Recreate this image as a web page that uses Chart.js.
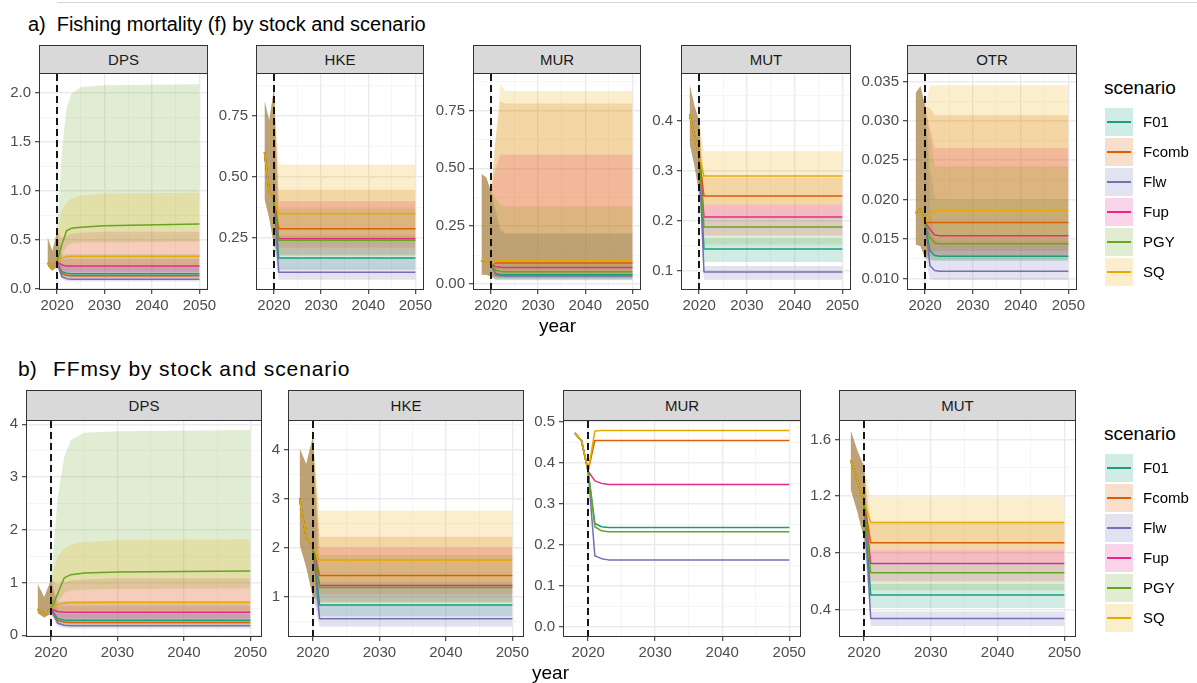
<!DOCTYPE html>
<html><head><meta charset="utf-8">
<script src="https://cdn.jsdelivr.net/npm/chart.js@4"></script>
<style>
html,body{margin:0;padding:0;background:#fff;}
body{width:1197px;height:683px;position:relative;overflow:hidden;font-family:"Liberation Sans",Arial,Helvetica,sans-serif;}
.abs{position:absolute;white-space:pre;}
.strip{position:absolute;background:#D9D9D9;border:1px solid #333333;box-sizing:border-box;text-align:center;color:#1A1A1A;font-size:15px;}
</style></head><body>
<script>
// ---------------- DATA ----------------
const scenarios = ['F01','Fcomb','Flw','Fup','PGY','SQ'];
const scenarioColors = ['#1B9E77','#D95F02','#7570B3','#E7298A','#66A61E','#E6AB02'];
const histYears = [2018, 2019, 2020];
const projYears = [2021, 2022, 2023, 2025, 2030, 2050];
const xTickLabels = ['2020','2030','2040','2050'];
const refYear = 2020;

// a) Fishing mortality - DPS
const fDPS_yTicks = ['0.0','0.5','1.0','1.5','2.0'];
const fDPS_histMid = [0.26, 0.21, 0.27];
const fDPS_histLo  = [0.23, 0.18, 0.22];
const fDPS_histHi  = [0.52, 0.38, 0.58];
const fDPS_mid = [
 [0.17,0.155,0.15,0.15,0.15,0.15],
 [0.15,0.135,0.13,0.13,0.13,0.13],
 [0.12,0.10,0.095,0.095,0.095,0.095],
 [0.24,0.23,0.23,0.23,0.23,0.23],
 [0.45,0.59,0.615,0.625,0.64,0.66],
 [0.31,0.325,0.33,0.33,0.33,0.33]];
const fDPS_lo = [
 [0.13,0.115,0.11,0.11,0.11,0.11],
 [0.12,0.105,0.10,0.10,0.10,0.10],
 [0.09,0.075,0.07,0.07,0.07,0.07],
 [0.18,0.17,0.17,0.17,0.17,0.17],
 [0.33,0.43,0.46,0.47,0.47,0.48],
 [0.23,0.24,0.24,0.24,0.24,0.24]];
const fDPS_hi = [
 [0.34,0.35,0.35,0.35,0.35,0.35],
 [0.30,0.30,0.30,0.30,0.30,0.30],
 [0.24,0.22,0.22,0.22,0.22,0.22],
 [0.52,0.54,0.56,0.57,0.58,0.58],
 [1.40,1.84,1.99,2.06,2.08,2.09],
 [0.80,0.88,0.92,0.95,0.97,0.98]];

// a) HKE
const fHKE_yTicks = ['0.25','0.50','0.75'];
const fHKE_histMid = [0.60, 0.44, 0.41];
const fHKE_histLo  = [0.41, 0.33, 0.22];
const fHKE_histHi  = [0.81, 0.73, 0.86];
const fHKE_mid = [
 [0.167,0.167,0.167,0.167,0.167,0.167],
 [0.287,0.287,0.287,0.287,0.287,0.287],
 [0.109,0.109,0.109,0.109,0.109,0.109],
 [0.246,0.246,0.246,0.246,0.246,0.246],
 [0.240,0.240,0.240,0.240,0.240,0.240],
 [0.348,0.348,0.348,0.348,0.348,0.348]];
const fHKE_lo = [
 [0.120,0.120,0.120,0.120,0.120,0.120],
 [0.210,0.210,0.210,0.210,0.210,0.210],
 [0.078,0.078,0.078,0.078,0.078,0.078],
 [0.180,0.180,0.180,0.180,0.180,0.180],
 [0.175,0.175,0.175,0.175,0.175,0.175],
 [0.250,0.250,0.250,0.250,0.250,0.250]];
const fHKE_hi = [
 [0.260,0.260,0.260,0.260,0.260,0.260],
 [0.447,0.447,0.447,0.447,0.447,0.447],
 [0.170,0.170,0.170,0.170,0.170,0.170],
 [0.400,0.400,0.400,0.400,0.400,0.400],
 [0.370,0.370,0.370,0.370,0.370,0.370],
 [0.550,0.550,0.550,0.550,0.550,0.550]];

// a) MUR
const fMUR_yTicks = ['0.00','0.25','0.50','0.75'];
const fMUR_histMid = [0.100, 0.100, 0.082];
const fMUR_histLo  = [0.040, 0.040, 0.032];
const fMUR_histHi  = [0.475, 0.460, 0.400];
const fMUR_mid = [
 [0.045,0.040,0.040,0.040,0.040,0.040],
 [0.090,0.090,0.090,0.090,0.090,0.090],
 [0.040,0.035,0.034,0.034,0.034,0.034],
 [0.075,0.072,0.071,0.071,0.071,0.071],
 [0.060,0.054,0.053,0.053,0.053,0.053],
 [0.100,0.100,0.100,0.100,0.100,0.100]];
const fMUR_lo = [
 [0.018,0.018,0.018,0.018,0.018,0.018],
 [0.030,0.030,0.030,0.030,0.030,0.030],
 [0.016,0.016,0.016,0.016,0.016,0.016],
 [0.026,0.026,0.026,0.026,0.026,0.026],
 [0.022,0.022,0.022,0.022,0.022,0.022],
 [0.032,0.032,0.032,0.032,0.032,0.032]];
const fMUR_hi = [
 [0.320,0.240,0.220,0.220,0.220,0.220],
 [0.620,0.790,0.780,0.780,0.780,0.780],
 [0.300,0.230,0.215,0.215,0.215,0.215],
 [0.500,0.560,0.560,0.560,0.560,0.560],
 [0.370,0.345,0.335,0.335,0.335,0.335],
 [0.650,0.865,0.835,0.835,0.835,0.835]];

// a) MUT
const fMUT_yTicks = ['0.1','0.2','0.3','0.4'];
const fMUT_histMid = [0.412, 0.370, 0.330];
const fMUT_histLo  = [0.355, 0.310, 0.255];
const fMUT_histHi  = [0.472, 0.430, 0.400];
const fMUT_mid = [
 [0.143,0.143,0.143,0.143,0.143,0.143],
 [0.249,0.249,0.249,0.249,0.249,0.249],
 [0.0967,0.0967,0.0967,0.0967,0.0967,0.0967],
 [0.207,0.207,0.207,0.207,0.207,0.207],
 [0.187,0.187,0.187,0.187,0.187,0.187],
 [0.289,0.289,0.289,0.289,0.289,0.289]];
const fMUT_lo = [
 [0.117,0.117,0.117,0.117,0.117,0.117],
 [0.210,0.210,0.210,0.210,0.210,0.210],
 [0.081,0.081,0.081,0.081,0.081,0.081],
 [0.170,0.170,0.170,0.170,0.170,0.170],
 [0.152,0.152,0.152,0.152,0.152,0.152],
 [0.232,0.232,0.232,0.232,0.232,0.232]];
const fMUT_hi = [
 [0.165,0.165,0.165,0.165,0.165,0.165],
 [0.286,0.286,0.286,0.286,0.286,0.286],
 [0.109,0.109,0.109,0.109,0.109,0.109],
 [0.232,0.232,0.232,0.232,0.232,0.232],
 [0.210,0.210,0.210,0.210,0.210,0.210],
 [0.339,0.339,0.339,0.339,0.339,0.339]];

// a) OTR
const fOTR_yTicks = ['0.010','0.015','0.020','0.025','0.030','0.035'];
const fOTR_histMid = [0.0183, 0.0188, 0.0171];
const fOTR_histLo  = [0.0143, 0.0141, 0.0126];
const fOTR_histHi  = [0.0335, 0.0344, 0.0318];
const fOTR_mid = [
 [0.0135,0.0129,0.0128,0.0128,0.0128,0.0128],
 [0.0171,0.0171,0.0171,0.0171,0.0171,0.0171],
 [0.0116,0.0110,0.0109,0.0109,0.0109,0.0109],
 [0.0162,0.0155,0.0154,0.0154,0.0154,0.0154],
 [0.0152,0.0145,0.0144,0.0144,0.0144,0.0144],
 [0.0183,0.0186,0.0186,0.0186,0.0186,0.0186]];
const fOTR_lo = [
 [0.0124,0.0122,0.0122,0.0122,0.0122,0.0122],
 [0.0133,0.0135,0.0135,0.0135,0.0135,0.0135],
 [0.0099,0.0098,0.0098,0.0098,0.0098,0.0098],
 [0.0128,0.0128,0.0128,0.0128,0.0128,0.0128],
 [0.0123,0.0123,0.0123,0.0123,0.0123,0.0123],
 [0.0138,0.0141,0.0141,0.0141,0.0141,0.0141]];
const fOTR_hi = [
 [0.0240,0.0201,0.0200,0.0200,0.0200,0.0200],
 [0.0316,0.0307,0.0307,0.0307,0.0307,0.0307],
 [0.0190,0.0149,0.0148,0.0148,0.0148,0.0148],
 [0.0290,0.0265,0.0265,0.0265,0.0265,0.0265],
 [0.0280,0.0242,0.0242,0.0242,0.0242,0.0242],
 [0.0345,0.0345,0.0345,0.0345,0.0345,0.0345]];

// b) FFmsy - DPS
const ffDPS_yTicks = ['0','1','2','3','4'];
const ffDPS_histMid = [0.49, 0.40, 0.50];
const ffDPS_histLo  = [0.42, 0.34, 0.41];
const ffDPS_histHi  = [0.97, 0.72, 1.05];
const ffDPS_mid = [
 [0.32,0.29,0.285,0.285,0.285,0.285],
 [0.28,0.25,0.245,0.245,0.245,0.245],
 [0.23,0.19,0.18,0.18,0.18,0.18],
 [0.45,0.435,0.435,0.435,0.435,0.435],
 [0.78,1.09,1.15,1.18,1.20,1.22],
 [0.58,0.61,0.62,0.62,0.625,0.625]];
const ffDPS_lo = [
 [0.24,0.215,0.205,0.205,0.205,0.205],
 [0.22,0.195,0.185,0.185,0.185,0.185],
 [0.17,0.14,0.13,0.13,0.13,0.13],
 [0.34,0.32,0.32,0.32,0.32,0.32],
 [0.62,0.80,0.85,0.87,0.88,0.89],
 [0.43,0.45,0.45,0.45,0.45,0.45]];
const ffDPS_hi = [
 [0.63,0.65,0.65,0.65,0.65,0.65],
 [0.56,0.56,0.56,0.56,0.56,0.56],
 [0.45,0.41,0.41,0.41,0.41,0.41],
 [0.97,1.00,1.04,1.06,1.08,1.08],
 [2.60,3.38,3.70,3.84,3.87,3.89],
 [1.50,1.64,1.72,1.77,1.80,1.82]];

// b) HKE
const ffHKE_yTicks = ['1','2','3','4'];
const ffHKE_histMid = [3.00, 2.20, 2.02];
const ffHKE_histLo  = [2.07, 1.60, 1.00];
const ffHKE_histHi  = [4.02, 3.70, 4.27];
const ffHKE_mid = [
 [0.83,0.83,0.83,0.83,0.83,0.83],
 [1.43,1.43,1.43,1.43,1.43,1.43],
 [0.55,0.55,0.55,0.55,0.55,0.55],
 [1.23,1.23,1.23,1.23,1.23,1.23],
 [1.19,1.19,1.19,1.19,1.19,1.19],
 [1.75,1.75,1.75,1.75,1.75,1.75]];
const ffHKE_lo = [
 [0.60,0.60,0.60,0.60,0.60,0.60],
 [1.05,1.05,1.05,1.05,1.05,1.05],
 [0.39,0.39,0.39,0.39,0.39,0.39],
 [0.90,0.90,0.90,0.90,0.90,0.90],
 [0.87,0.87,0.87,0.87,0.87,0.87],
 [1.25,1.25,1.25,1.25,1.25,1.25]];
const ffHKE_hi = [
 [1.30,1.30,1.30,1.30,1.30,1.30],
 [2.22,2.22,2.22,2.22,2.22,2.22],
 [0.85,0.85,0.85,0.85,0.85,0.85],
 [2.00,2.00,2.00,2.00,2.00,2.00],
 [1.85,1.85,1.85,1.85,1.85,1.85],
 [2.75,2.75,2.75,2.75,2.75,2.75]];

// b) MUR (lines only)
const ffMUR_yTicks = ['0.0','0.1','0.2','0.3','0.4','0.5'];
const ffMUR_histMid = [0.473, 0.455, 0.380];
const ffMUR_mid = [
 [0.252,0.244,0.242,0.242,0.242,0.242],
 [0.455,0.455,0.455,0.455,0.455,0.455],
 [0.173,0.166,0.163,0.163,0.163,0.163],
 [0.356,0.350,0.347,0.347,0.347,0.347],
 [0.244,0.234,0.232,0.232,0.232,0.232],
 [0.478,0.479,0.479,0.479,0.479,0.479]];

// b) MUT
const ffMUT_yTicks = ['0.4','0.8','1.2','1.6'];
const ffMUT_histMid = [1.454, 1.310, 1.165];
const ffMUT_histLo  = [1.250, 1.090, 0.900];
const ffMUT_histHi  = [1.666, 1.520, 1.410];
const ffMUT_mid = [
 [0.501,0.501,0.501,0.501,0.501,0.501],
 [0.871,0.871,0.871,0.871,0.871,0.871],
 [0.336,0.336,0.336,0.336,0.336,0.336],
 [0.725,0.725,0.725,0.725,0.725,0.725],
 [0.659,0.659,0.659,0.659,0.659,0.659],
 [1.014,1.014,1.014,1.014,1.014,1.014]];
const ffMUT_lo = [
 [0.410,0.410,0.410,0.410,0.410,0.410],
 [0.740,0.740,0.740,0.740,0.740,0.740],
 [0.282,0.282,0.282,0.282,0.282,0.282],
 [0.600,0.600,0.600,0.600,0.600,0.600],
 [0.535,0.535,0.535,0.535,0.535,0.535],
 [0.820,0.820,0.820,0.820,0.820,0.820]];
const ffMUT_hi = [
 [0.580,0.580,0.580,0.580,0.580,0.580],
 [1.010,1.010,1.010,1.010,1.010,1.010],
 [0.385,0.385,0.385,0.385,0.385,0.385],
 [0.820,0.820,0.820,0.820,0.820,0.820],
 [0.740,0.740,0.740,0.740,0.740,0.740],
 [1.195,1.195,1.195,1.195,1.195,1.195]];

// ---------------- LAYOUT ----------------
const panels = [
 {name:'DPS', x0:40,  x1:207,  y0:74, y1:289, sTop:45, ymin:-0.006, ymax:2.194, yT:fDPS_yTicks, hM:fDPS_histMid, hL:fDPS_histLo, hH:fDPS_histHi, m:fDPS_mid, lo:fDPS_lo, hi:fDPS_hi},
 {name:'HKE', x0:257, x1:423,  y0:74, y1:289, sTop:45, ymin:0.04, ymax:0.921, yT:fHKE_yTicks, hM:fHKE_histMid, hL:fHKE_histLo, hH:fHKE_histHi, m:fHKE_mid, lo:fHKE_lo, hi:fHKE_hi},
 {name:'MUR', x0:474, x1:640,  y0:74, y1:289, sTop:45, ymin:-0.022, ymax:0.908, yT:fMUR_yTicks, hM:fMUR_histMid, hL:fMUR_histLo, hH:fMUR_histHi, m:fMUR_mid, lo:fMUR_lo, hi:fMUR_hi},
 {name:'MUT', x0:682, x1:850,  y0:74, y1:289, sTop:45, ymin:0.0627, ymax:0.4936, yT:fMUT_yTicks, hM:fMUT_histMid, hL:fMUT_histLo, hH:fMUT_histHi, m:fMUT_mid, lo:fMUT_lo, hi:fMUT_hi},
 {name:'OTR', x0:908, x1:1076, y0:74, y1:289, sTop:45, ymin:0.00865, ymax:0.03594, yT:fOTR_yTicks, hM:fOTR_histMid, hL:fOTR_histLo, hH:fOTR_histHi, m:fOTR_mid, lo:fOTR_lo, hi:fOTR_hi},
 {name:'DPS', x0:27,  x1:261,  y0:421, y1:636, sTop:390, ymin:-0.013, ymax:4.062, yT:ffDPS_yTicks, hM:ffDPS_histMid, hL:ffDPS_histLo, hH:ffDPS_histHi, m:ffDPS_mid, lo:ffDPS_lo, hi:ffDPS_hi},
 {name:'HKE', x0:289, x1:523,  y0:421, y1:636, sTop:390, ymin:0.2, ymax:4.58, yT:ffHKE_yTicks, hM:ffHKE_histMid, hL:ffHKE_histLo, hH:ffHKE_histHi, m:ffHKE_mid, lo:ffHKE_lo, hi:ffHKE_hi},
 {name:'MUR', x0:564, x1:800,  y0:421, y1:636, sTop:390, ymin:-0.023, ymax:0.5024, yT:ffMUR_yTicks, hM:ffMUR_histMid, hL:null, hH:null, m:ffMUR_mid, lo:null, hi:null},
 {name:'MUT', x0:840, x1:1075, y0:421, y1:636, sTop:390, ymin:0.212, ymax:1.731, yT:ffMUT_yTicks, hM:ffMUT_histMid, hL:ffMUT_histLo, hH:ffMUT_histHi, m:ffMUT_mid, lo:ffMUT_lo, hi:ffMUT_hi}
];
const XMIN = 2016.4, XMAX = 2051.6;
const L = 50, T = 16, R = 26, B = 30;
const FONT = '"Liberation Sans", Arial, Helvetica, sans-serif';
Chart.defaults.font.family = FONT;

function rgba(h, a){ const n = parseInt(h.slice(1),16); return `rgba(${n>>16},${(n>>8)&255},${n&255},${a})`; }
function tickList(labels, min, max){
  const vals = labels.map(parseFloat);
  const step = vals[1] - vals[0];
  const out = [];
  vals.forEach((v,i)=>{ if (v>=min && v<=max) out.push({value:v, mj:true, lab:labels[i]}); });
  for (let i=-1; i<vals.length; i++){
    const mv = vals[0] + (i+0.5)*step;
    if (mv>=min && mv<=max) out.push({value:mv, mj:false, lab:''});
  }
  return out.sort((a,b)=>a.value-b.value);
}
function series(xs, ys){ return xs.map((x,k)=>({x:x, y:ys[k]})); }

function buildDatasets(p){
  const years = histYears.concat(projYears);
  const ds = [];
  if (p.lo){
    scenarios.forEach((s,i)=>{
      const loIdx = ds.length;
      ds.push({label:s+' lo', data:series(years, p.hL.concat(p.lo[i])), borderWidth:0, borderColor:'rgba(0,0,0,0)', pointRadius:0, fill:false, order:300+(5-i)*2});
      ds.push({label:s+' hi', data:series(years, p.hH.concat(p.hi[i])), borderWidth:0, borderColor:'rgba(0,0,0,0)', pointRadius:0, fill:{target:loIdx}, backgroundColor:rgba(scenarioColors[i],0.2), order:300+(5-i)*2-1});
    });
  }
  scenarios.forEach((s,i)=>{
    ds.push({label:s, data:series(years, p.hM.concat(p.m[i])), borderColor:scenarioColors[i], borderWidth:1.5, borderJoinStyle:'round', pointRadius:0, fill:false, order:5-i});
  });
  return ds;
}

const deco = {
  id:'deco',
  afterDatasetsDraw(chart){
    const {ctx, chartArea:a, scales:{x}} = chart;
    ctx.save();
    const px = Math.round(x.getPixelForValue(refYear));
    ctx.strokeStyle = '#000'; ctx.lineWidth = 1.8; ctx.setLineDash([7,4]);
    ctx.beginPath(); ctx.moveTo(px, a.top); ctx.lineTo(px, a.bottom); ctx.stroke();
    ctx.setLineDash([]);
    ctx.strokeStyle = '#333333'; ctx.lineWidth = 1;
    ctx.strokeRect(a.left-0.5, a.top-0.5, a.right-a.left+1, a.bottom-a.top+1);
    ctx.restore();
  }
};

function gridOpts(){
  return {
    color: c => (c.tick && c.tick.mj) ? '#EBEBEB' : '#F3F3F3',
    lineWidth: c => (c.tick && c.tick.mj) ? 1.4 : 0.8,
    tickColor: c => (c.tick && c.tick.mj) ? '#333333' : 'rgba(0,0,0,0)',
    tickWidth: 1.1, tickLength: 5, drawTicks: true
  };
}

function makePanel(p){
  const w = p.x1 - p.x0, h = p.y1 - p.y0;
  const cv = document.createElement('canvas');
  cv.width = w + L + R; cv.height = h + T + B;
  cv.style.cssText = `position:absolute;left:${p.x0-L}px;top:${p.y0-T}px;width:${w+L+R}px;height:${h+T+B}px;`;
  document.body.appendChild(cv);
  const st = document.createElement('div');
  st.className = 'strip';
  const sh = p.y0 - p.sTop;
  st.style.cssText = `left:${p.x0-1}px;top:${p.sTop}px;width:${w+2}px;height:${sh}px;line-height:${sh-2}px;`;
  st.textContent = p.name;
  document.body.appendChild(st);
  new Chart(cv.getContext('2d'), {
    type:'line',
    data:{datasets: buildDatasets(p)},
    options:{
      responsive:false, animation:false, devicePixelRatio:1, events:[],
      layout:{padding:{left:0, top:T, right:R, bottom:0}},
      plugins:{legend:{display:false}, tooltip:{enabled:false}},
      scales:{
        x:{type:'linear', min:XMIN, max:XMAX,
           afterBuildTicks: s => { s.ticks = tickList(xTickLabels, XMIN, XMAX); },
           afterFit: s => { s.height = B; },
           ticks:{autoSkip:false, maxRotation:0, padding:3, color:'#4D4D4D', font:{size:15, family:FONT},
                  callback:(v,i,t)=> t[i] && t[i].mj ? t[i].lab : ''},
           grid:gridOpts(), border:{display:false}},
        y:{type:'linear', min:p.ymin, max:p.ymax,
           afterBuildTicks: s => { s.ticks = tickList(p.yT, p.ymin, p.ymax); },
           afterFit: s => { s.width = L; },
           ticks:{autoSkip:false, padding:4, color:'#4D4D4D', font:{size:15, family:FONT},
                  callback:(v,i,t)=> t[i] && t[i].mj ? t[i].lab : ''},
           grid:gridOpts(), border:{display:false}}
      }
    },
    plugins:[deco]
  });
}

function addText(txt, left, top, size, extra){
  const d = document.createElement('div');
  d.className = 'abs';
  d.style.cssText = `left:${left}px;top:${top}px;font-size:${size}px;line-height:${Math.round(size*1.15)}px;color:#000;${extra||''}`;
  d.textContent = txt;
  document.body.appendChild(d);
  return d;
}

function makeLegend(titleTop, keyTop){
  addText('scenario', 1104, titleTop, 19, 'line-height:22px;');
  scenarios.forEach((s,i)=>{
    const k = document.createElement('div');
    k.style.cssText = `position:absolute;left:1105px;top:${keyTop+30*i}px;width:28px;height:28px;background:${rgba(scenarioColors[i],0.2)};`;
    const ln = document.createElement('div');
    ln.style.cssText = `position:absolute;left:2px;width:24px;top:13px;height:1.5px;background:${scenarioColors[i]};`;
    k.appendChild(ln);
    document.body.appendChild(k);
    addText(s, 1143, keyTop+30*i+14-8.8, 15, 'line-height:18px;color:#000;');
  });
}

// decorations of the screenshot
const topLine = document.createElement('div');
topLine.style.cssText = 'position:absolute;left:57px;top:2px;width:1140px;height:1px;background:#d6d6d6;';
document.body.appendChild(topLine);

addText('a)', 28, 13.8, 20, 'line-height:20px;');
addText('Fishing mortality (f) by stock and scenario', 56.7, 13.8, 20, 'line-height:20px;');
addText('b)', 18, 358, 21, 'line-height:21px;');
addText('FFmsy by stock and scenario', 53, 358, 21, 'line-height:21px;letter-spacing:0.9px;');

panels.forEach(makePanel);

addText('year', 539, 314.8, 19, 'line-height:22px;');
addText('year', 532, 661.5, 19, 'line-height:22px;');
makeLegend(76.5, 108);
makeLegend(422.8, 454);
</script>
</body></html>
